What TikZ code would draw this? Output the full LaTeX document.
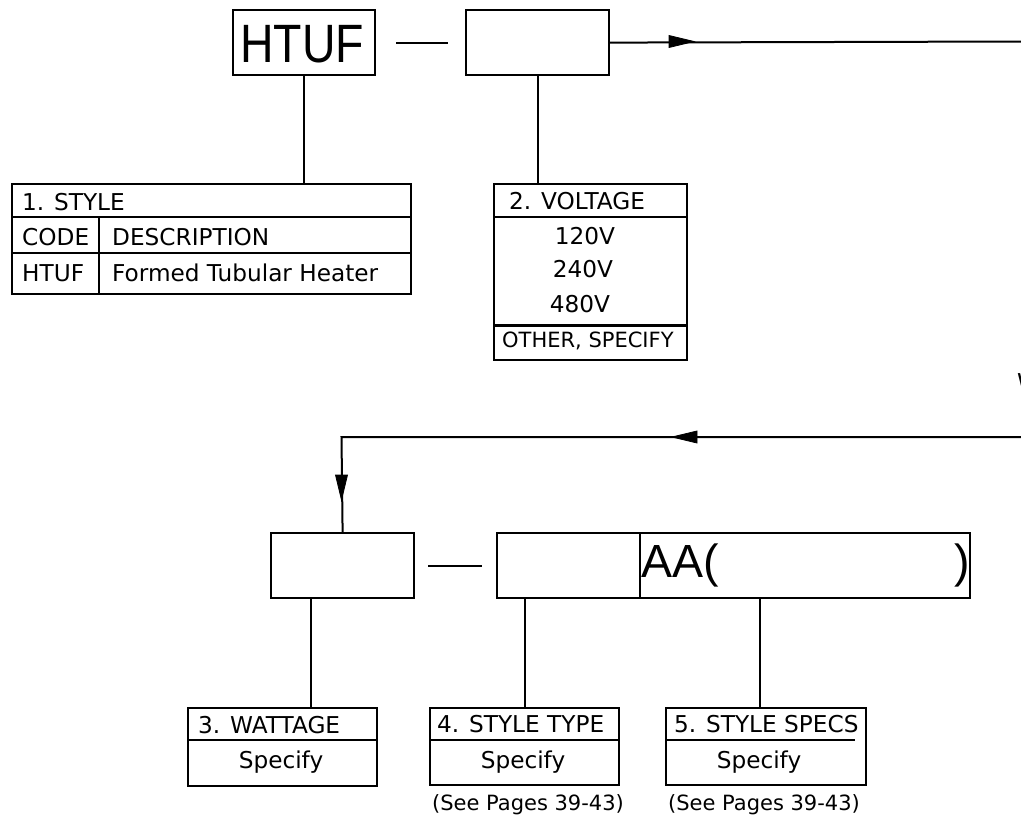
\documentclass[tikz,border=0pt]{standalone}
\usepackage{fontspec}
\setmainfont{DejaVu Sans}
\newfontfamily\bigf{Liberation Sans}
\usetikzlibrary{calc}
\begin{document}
\begin{tikzpicture}[x=1pt,y=-1pt,
  box/.style={draw,line width=2.2pt,rectangle,inner sep=0pt,anchor=north west},
  conn/.style={line width=2pt},
  head/.style={fill=black,draw=black,line width=0.8pt,line join=miter},
  txt/.style={inner sep=0pt,font=\fontsize{23.2}{27}\selectfont},
  smalltxt/.style={inner sep=0pt,font=\fontsize{21}{24}\selectfont},
  bigtxt/.style={inner sep=0pt,font=\bigf\fontsize{46.5}{50}\selectfont}]
\useasboundingbox (0,0) rectangle (1021,819);

% ---- top row boxes
\node[box,minimum width=142pt,minimum height=65pt] (htuf) at (232,9) {};
\node[box,minimum width=143pt,minimum height=65pt] (vbox) at (465,9) {};
\node[inner sep=0pt,anchor=base west] (htuftxt) at (240,62)
  {\scalebox{0.86}[1]{\bigf\fontsize{54}{58}\selectfont HTUF}};

% ---- style table
\node[box,minimum width=399pt,minimum height=110pt] (styletab) at (11,183) {};
\draw[line width=2.2pt] ($(styletab.north west)+(0,34)$) -- ($(styletab.north east)+(0,34)$);
\draw[line width=2.2pt] ($(styletab.north west)+(0,70)$) -- ($(styletab.north east)+(0,70)$);
\draw[line width=2.2pt] ($(styletab.north west)+(88,34)$) -- ($(styletab.south west)+(88,0)$);
\node[txt,anchor=base west] (s1) at (22,210) {1. STYLE};
\node[txt,anchor=base west] (s2) at (22,245) {CODE};
\node[txt,anchor=base west] (s3) at (112,245) {DESCRIPTION};
\node[txt,anchor=base west] (s4) at (22,281) {HTUF};
\node[txt,anchor=base west] (s5) at (112,281) {Formed Tubular Heater};

% ---- voltage table
\node[box,minimum width=193pt,minimum height=176pt] (volttab) at (493,183) {};
\draw[line width=2.2pt] ($(volttab.north west)+(0,34)$) -- ($(volttab.north east)+(0,34)$);
\draw[line width=3pt] ($(volttab.north west)+(0,142)$) -- ($(volttab.north east)+(0,142)$);
\node[txt,anchor=base west] (v1) at (509,209) {2. VOLTAGE};
\node[txt,anchor=base] (v2) at (585,244) {120V};
\node[txt,anchor=base] (v3) at (583,277) {240V};
\node[txt,anchor=base] (v4) at (580,312) {480V};
\node[smalltxt,anchor=base west] (v5) at (502,347) {OTHER, SPECIFY};

% ---- top connectors
\draw[conn] (htuf.south) -- (htuf.south |- styletab.north);
\draw[conn] (vbox.south) -- (vbox.south |- volttab.north);
\draw[conn] ([xshift=20pt]htuf.east) -- ([xshift=-17pt]vbox.west);
\coordinate (topend) at (1021,41.5);
\coordinate (toptip) at (694,41.5);
\draw[conn] (vbox.east) -- (topend);
\filldraw[head] (toptip) -- ++(-25,-6) -- ++(0,12) -- cycle;

% ---- partial letter at right edge
\node[txt,anchor=base west] (wcut) at (1017,390) {W};

% ---- return line
\coordinate (retstart) at (1021,437);
\coordinate (rettip) at (672,437);
\coordinate (retcorner) at (341.5,437);
\coordinate (downtip) at (341.5,500);

% ---- bottom row boxes
\node[box,minimum width=143pt,minimum height=65pt] (wbox) at (270,532) {};
\node[box,minimum width=143pt,minimum height=65pt] (stbox) at (496,532) {};
\node[box,minimum width=330pt,minimum height=65pt] (specbox) at (639,532) {};
\node[bigtxt,anchor=base west] (aa) at (641,577) {AA(};
\node[bigtxt,anchor=base east] (paren) at (970,577) {)};

\draw[conn,line join=miter] (retstart) -- (retcorner) -- (wbox.north);
\filldraw[head] (rettip) -- ++(25,-6) -- ++(0,12) -- cycle;
\filldraw[head] (downtip) -- ++(-6,-25) -- ++(12,0) -- cycle;
\draw[conn] ([xshift=13pt]wbox.east) -- ([xshift=-14pt]wbox.east -| stbox.west);

% ---- bottom tables
\node[box,minimum width=189pt,minimum height=78pt] (tab3) at (187,707) {};
\node[box,minimum width=189pt,minimum height=77pt] (tab4) at (429,707) {};
\node[box,minimum width=200pt,minimum height=77pt] (tab5) at (665,707) {};
\draw[line width=2.2pt] ($(tab3.north west)+(0,33)$) -- ($(tab3.north east)+(0,33)$);
\draw[line width=2.2pt] ($(tab4.north west)+(0,33)$) -- ($(tab4.north east)+(0,33)$);
\draw[line width=2.2pt] ($(tab5.north west)+(0,33)$) -- ($(tab5.north east)+(-12,33)$);

\node[txt,anchor=base west] (w1) at (198,733) {3. WATTAGE};
\node[txt,anchor=base] (w2) at (281,768) {Specify};
\node[txt,anchor=base west] (t1) at (437,732) {4. STYLE TYPE};
\node[txt,anchor=base] (t2) at (523,768) {Specify};
\node[smalltxt,anchor=base] (t3) at (528,810) {(See Pages 39-43)};
\node[txt,anchor=base west] (p1) at (674,732) {5. STYLE SPECS};
\node[txt,anchor=base] (p2) at (759,768) {Specify};
\node[smalltxt,anchor=base] (p3) at (764,810) {(See Pages 39-43)};

% ---- bottom connectors
\draw[conn] ([xshift=-31.5pt]wbox.south) -- ([xshift=-31.5pt]wbox.south |- tab3.north);
\draw[conn] (tab4.north) -- (tab4.north |- stbox.south);
\draw[conn] ([xshift=-6pt]tab5.north) -- ([xshift=-6pt]tab5.north |- specbox.south);
\end{tikzpicture}
\end{document}
